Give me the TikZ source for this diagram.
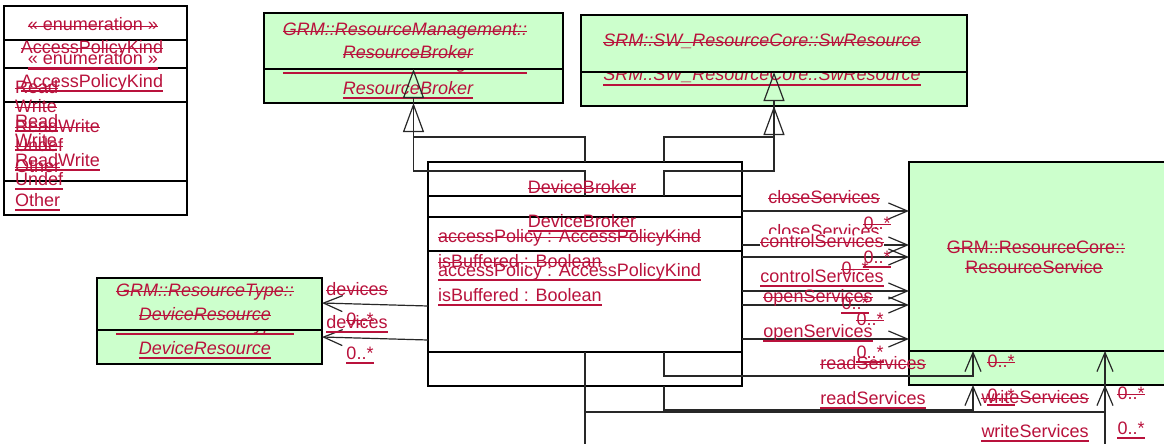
\documentclass[tikz,border=0pt]{standalone}
\usepackage{fontspec}
\setmainfont{Liberation Sans}
\usetikzlibrary{arrows.meta,calc}
\definecolor{crim}{RGB}{185,18,60}
\definecolor{umlgreen}{RGB}{204,255,204}
\definecolor{lnc}{RGB}{40,40,40}
\newcommand\fsz{\fontsize{18}{20}\selectfont}
\tikzset{
  txt/.style={font=\fsz, text=crim, inner sep=0pt, anchor=base},
  itf/.style={font=\fsz\itshape},
  lft/.style={anchor=base west},
  oldt/.style={txt, append after command={([yshift=4.7pt]\tikzlastnode.base west) edge[draw=crim, line width=1.3pt] ([yshift=4.7pt]\tikzlastnode.base east)}},
  newt/.style={txt, append after command={([yshift=-3.6pt]\tikzlastnode.base west) edge[draw=crim, line width=2.2pt] ([yshift=-3.6pt]\tikzlastnode.base east)}},
  umlbox/.style={draw=black, line width=1.2pt, anchor=north west, inner sep=0pt, outer sep=0pt},
  greenbox/.style={umlbox, fill=umlgreen},
  divider/.style={draw=black, line width=1.2pt},
  conn/.style={draw=lnc, line width=1.2pt},
  nav/.style={conn, -{Straight Barb[length=19pt, width=16pt]}},
  gen/.style={conn, -{Triangle[open, length=29pt, width=21pt]}},
}
\begin{document}
\begin{tikzpicture}[x=1pt, y=-1pt]
\useasboundingbox (0,0) rectangle (1164,444);
\clip (0,0) rectangle (1164,444);
\fill[white] (0,0) rectangle (1164,444);

% ---------- new (inserted) green boxes ----------
\node[greenbox, minimum width=299pt, minimum height=56pt] (rbNew) at (264,47) {};
\node[newt, itf] (rbNewA) at (405,69) {GRM::ResourceManagement::};
\node[newt, itf] (rbNewB) at (408,94) {ResourceBroker};
\node[greenbox, minimum width=386pt, minimum height=56pt] (swNew) at (581,50) {};
\node[newt, itf] (swNewA) at (762,81) {SRM::SW\_ResourceCore::SwResource};
\node[greenbox, minimum width=225pt, minimum height=52pt] (drNew) at (97,312) {};
\node[newt, itf] (drNewA) at (205,330) {GRM::ResourceType::};
\node[newt, itf] (drNewB) at (205,354) {DeviceResource};
\node[greenbox, minimum width=262pt, minimum height=189pt] (rsNew) at (909,196) {};
\node[newt] (rsNewA) at (1036,287) {GRM::ResourceCore::};
\node[newt] (rsNewB) at (1034,307) {ResourceService};

% ---------- old (deleted) green boxes ----------
\node[greenbox, minimum width=299pt, minimum height=56pt] (rbOld) at (264,13) {};
\node[oldt, itf] (rbOldA) at (405,36) {GRM::ResourceManagement::};
\node[oldt, itf] (rbOldB) at (408,59) {ResourceBroker};
\node[greenbox, minimum width=386pt, minimum height=57pt] (swOld) at (581,15) {};
\node[oldt, itf] (swOldA) at (762,47) {SRM::SW\_ResourceCore::SwResource};
\node[greenbox, minimum width=225pt, minimum height=52pt] (drOld) at (97,278) {};
\node[oldt, itf] (drOldA) at (205,296) {GRM::ResourceType::};
\node[oldt, itf] (drOldB) at (205,320) {DeviceResource};
\node[greenbox, minimum width=262pt, minimum height=189pt] (rsOld) at (909,162) {};
\node[oldt] (rsOldA) at (1036,253) {GRM::ResourceCore::};
\node[oldt] (rsOldB) at (1034,273) {ResourceService};

% ---------- enumeration ----------
\node[umlbox, minimum width=183pt, minimum height=175pt] (enOld) at (4,6) {};
\node[umlbox, minimum width=183pt, minimum height=175pt] (enNew) at (4,40) {};
\draw[divider] ($(enOld.north west)+(0,62)$) -- ($(enOld.north east)+(0,62)$);
\draw[divider] ($(enNew.north west)+(0,62)$) -- ($(enNew.north east)+(0,62)$);
\node[oldt] (enOldS) at (93,31) {« enumeration »};
\node[oldt] (enOldN) at (92,53) {AccessPolicyKind};
\node[oldt, lft] (enOld1) at (15,93) {Read};
\node[oldt, lft] (enOld2) at (15,112) {Write};
\node[oldt, lft] (enOld3) at (15,132) {ReadWrite};
\node[oldt, lft] (enOld4) at (15,151) {Undef};
\node[oldt, lft] (enOld5) at (15,172) {Other};
\node[newt] (enNewS) at (93,65) {« enumeration »};
\node[newt] (enNewN) at (92,87) {AccessPolicyKind};
\node[newt, lft] (enNew1) at (15,127) {Read};
\node[newt, lft] (enNew2) at (15,146) {Write};
\node[newt, lft] (enNew3) at (15,166) {ReadWrite};
\node[newt, lft] (enNew4) at (15,185) {Undef};
\node[newt, lft] (enNew5) at (15,206) {Other};

% ---------- DeviceBroker ----------
\node[umlbox, minimum width=314pt, minimum height=190pt] (dbOld) at (428,162) {};
\node[umlbox, minimum width=314pt, minimum height=190pt] (dbNew) at (428,196) {};
\draw[divider] ($(dbOld.north west)+(0,55)$) -- ($(dbOld.north east)+(0,55)$);
\draw[divider] ($(dbNew.north west)+(0,55)$) -- ($(dbNew.north east)+(0,55)$);

% ---------- connectors ----------
\draw[gen] (dbOld.north) -- ++(0,-25) -| (rbOld.south);
\draw[gen] (dbNew.north) -- ++(0,-25) -| (rbNew.south);
\draw[gen] ($(dbOld.north west)+(236,0)$) -- ++(0,-25) -| (swOld.south);
\draw[gen] ($(dbNew.north west)+(236,0)$) -- ++(0,-25) -| (swNew.south);

\draw[nav] ($(dbOld.north east)+(0,49)$) -- ($(rsOld.north west)+(0,49)$);
\draw[nav] ($(dbNew.north east)+(0,49)$) -- ($(rsNew.north west)+(0,49)$);
\draw[nav] ($(dbOld.north east)+(0,95)$) -- ($(rsOld.north west)+(0,95)$);
\draw[nav] ($(dbNew.north east)+(0,95)$) -- ($(rsNew.north west)+(0,95)$);
\draw[nav] ($(dbOld.north east)+(0,143)$) -- ($(rsOld.north west)+(0,143)$);
\draw[nav] ($(dbNew.north east)+(0,143)$) -- ($(rsNew.north west)+(0,143)$);

\draw[nav] ($(dbOld.north west)+(0,144)$) -- ($(drOld.north east)+(0,25)$);
\draw[nav] ($(dbNew.north west)+(0,144)$) -- ($(drNew.north east)+(0,25)$);

\draw[nav] ($(dbOld.south west)+(236,0)$) -- ++(0,24) -| ($(rsOld.south west)+(64,0)$);
\draw[nav] ($(dbNew.south west)+(236,0)$) -- ++(0,24) -| ($(rsNew.south west)+(64,0)$);
\draw[nav] (dbOld.south) -- ++(0,60) -| ($(rsOld.south west)+(196,0)$);
\draw[nav] (dbNew.south) -- ++(0,80) -| ($(rsNew.south west)+(196,0)$);

% ---------- DeviceBroker texts ----------
\node[oldt] (dbOldN) at (582,193) {DeviceBroker};
\node[newt] (dbNewN) at (582,227) {DeviceBroker};
\node[oldt, lft] (dbOldA1) at (438,242) {accessPolicy : AccessPolicyKind};
\node[oldt, lft] (dbOldA2) at (438,267) {isBuffered : Boolean};
\node[newt, lft] (dbNewA1) at (438,276) {accessPolicy : AccessPolicyKind};
\node[newt, lft] (dbNewA2) at (438,301) {isBuffered : Boolean};

% ---------- association labels (new) ----------
\node[newt] (lcNew) at (824,237) {closeServices};
\node[newt] (mcNew) at (877,263) {0..*};
\node[newt] (ltNew) at (822,282) {controlServices};
\node[newt] (mtNew) at (855,309) {0..*};
\node[newt] (loNew) at (818,337) {openServices};
\node[newt] (moNew) at (870,358) {0..*};
\node[newt] (ldNew) at (357,328) {devices};
\node[newt] (mdNew) at (360,359) {0..*};
\node[newt] (lrNew) at (873,404) {readServices};
\node[newt] (mrNew) at (1001,401) {0..*};
\node[newt] (lwNew) at (1035,437) {writeServices};
\node[newt] (mwNew) at (1131,434) {0..*};

% ---------- association labels (old) ----------
\node[oldt] (lcOld) at (824,203) {closeServices};
\node[oldt] (mcOld) at (877,229) {0..*};
\node[oldt, fill=white] (ltOld) at (822,247) {controlServices};
\node[oldt] (mtOld) at (855,274) {0..*};
\node[oldt] (loOld) at (818,302) {openServices};
\node[oldt] (moOld) at (870,325) {0..*};
\node[oldt] (ldOld) at (357,295) {devices};
\node[oldt] (mdOld) at (360,325) {0..*};
\node[oldt] (lrOld) at (873,369) {readServices};
\node[oldt] (mrOld) at (1001,367) {0..*};
\node[oldt] (lwOld) at (1035,403) {writeServices};
\node[oldt] (mwOld) at (1131,399) {0..*};
\end{tikzpicture}
\end{document}
